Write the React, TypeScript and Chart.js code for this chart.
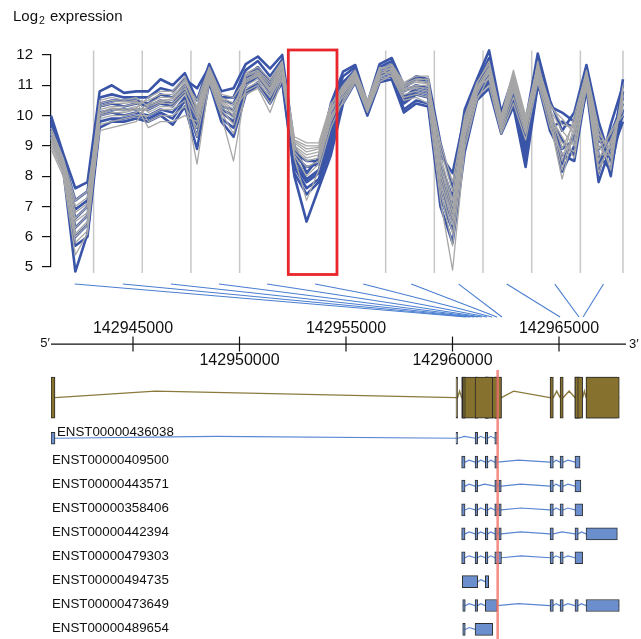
import React, { useEffect, useRef } from "react";
import { Chart, registerables } from "chart.js";
Chart.register(...registerables);

// ---------- Expression profiles (48 probes, 12 probe sets of 4) ----------
const BLUE_1 = [10.0, 8.75, 7.6, 7.8, 10.8, 11.0, 10.75, 10.8, 10.8, 11.2, 11.0, 11.4, 10.5, 11.7, 10.8, 10.9, 11.7, 11.95, 11.55, 12.0, 9.0, 8.1, 8.6, 10.4, 11.45, 11.67, 10.4, 11.7, 11.9, 11.0, 11.3, 11.2, 9.1, 7.6, 10.2, 11.2, 12.15, 10.1, 11.3, 9.8, 12.05, 10.5, 9.5, 10.1, 11.67, 9.8, 8.5, 11.2];
const BLUE_2 = [9.9, 8.6, 7.2, 7.5, 10.6, 10.7, 10.6, 10.6, 10.6, 10.9, 10.8, 11.2, 10.9, 11.6, 10.6, 10.6, 11.5, 11.8, 11.3, 11.85, 8.8, 8.5, 8.5, 10.1, 11.3, 11.6, 10.35, 11.6, 11.8, 10.9, 11.2, 11.1, 8.7, 8.1, 10.0, 11.1, 11.9, 10.0, 11.1, 9.6, 11.8, 10.3, 10.1, 9.8, 11.5, 8.1, 9.7, 11.0];
const BLUE_3 = [9.8, 8.5, 6.9, 7.2, 10.4, 10.5, 10.5, 10.5, 10.4, 10.7, 10.6, 11.0, 10.2, 11.5, 10.5, 10.4, 11.3, 11.6, 11.1, 11.7, 8.7, 8.3, 8.4, 9.8, 11.1, 11.5, 10.3, 11.5, 11.7, 10.8, 11.0, 10.9, 8.4, 7.3, 9.8, 11.0, 11.7, 9.9, 11.0, 9.4, 11.6, 9.6, 9.8, 9.6, 11.4, 9.5, 8.0, 10.8];
const BLUE_4 = [9.7, 8.45, 6.6, 7.0, 10.3, 10.4, 10.3, 10.4, 10.3, 10.5, 10.4, 10.9, 10.0, 11.45, 10.3, 10.2, 11.2, 11.5, 11.0, 11.6, 8.6, 7.9, 8.2, 9.5, 11.0, 11.4, 10.25, 11.4, 11.6, 10.6, 10.9, 10.8, 8.1, 7.0, 9.6, 10.9, 11.5, 9.8, 10.9, 9.2, 11.5, 10.2, 8.4, 9.4, 11.3, 8.9, 9.2, 10.6];
const BLUE_5 = [9.6, 8.4, 6.3, 6.7, 10.1, 10.2, 10.2, 10.2, 10.2, 10.4, 10.3, 10.8, 9.8, 11.4, 10.2, 10.0, 11.1, 11.4, 10.9, 11.5, 8.4, 7.8, 8.1, 9.3, 10.9, 11.35, 10.2, 11.35, 11.5, 10.5, 10.8, 10.7, 7.9, 6.8, 9.4, 10.8, 11.4, 9.7, 10.8, 9.0, 11.4, 9.9, 9.2, 8.7, 11.2, 8.4, 9.4, 10.4];
const BLUE_6 = [9.5, 8.3, 6.0, 6.4, 10.0, 10.1, 10.0, 10.1, 10.0, 10.2, 10.1, 10.6, 9.6, 11.3, 10.1, 9.8, 11.0, 11.3, 10.7, 11.4, 8.3, 7.6, 7.9, 9.1, 10.7, 11.3, 10.15, 11.3, 11.4, 10.4, 10.7, 10.6, 7.6, 6.5, 9.2, 10.7, 11.2, 9.6, 10.6, 8.8, 11.3, 9.8, 8.9, 9.2, 11.1, 8.7, 8.2, 10.2];
const BLUE_7 = [9.4, 8.25, 4.85, 6.1, 9.8, 9.9, 9.9, 10.0, 9.9, 10.1, 9.9, 10.5, 9.3, 11.2, 9.9, 9.6, 10.8, 11.1, 10.5, 11.2, 8.1, 7.4, 7.8, 8.9, 10.6, 11.2, 10.1, 11.2, 11.3, 10.2, 10.5, 10.4, 7.3, 6.2, 9.0, 10.6, 11.1, 9.5, 10.4, 8.5, 11.1, 9.5, 8.7, 8.5, 10.9, 7.8, 9.0, 10.0];
const BLUE_8 = [9.3, 8.2, 5.7, 6.0, 9.6, 9.8, 9.8, 9.9, 9.8, 10.0, 9.7, 10.3, 8.9, 11.1, 9.8, 9.3, 10.7, 11.0, 10.4, 11.1, 8.0, 6.5, 7.6, 8.7, 10.4, 11.1, 10.0, 11.1, 11.2, 10.1, 10.4, 10.3, 7.0, 5.8, 8.8, 10.5, 10.9, 9.4, 10.3, 8.3, 11.0, 10.0, 8.15, 9.0, 10.8, 9.2, 8.7, 9.8];

const GRAY_1 = [9.6, 8.6, 7.2, 7.5, 10.2, 10.3, 10.3, 10.4, 10.5, 10.7, 10.7, 11.2, 10.2, 11.5, 10.55, 10.3, 11.15, 11.35, 10.85, 11.6, 9.2, 9.0, 9.0, 10.35, 11.0, 11.5, 10.5, 11.6, 11.5, 10.85, 10.95, 10.9, 8.5, 7.0, 9.7, 10.95, 11.6, 9.9, 11.3, 9.85, 11.7, 10.25, 8.9, 9.8, 11.5, 9.6, 8.6, 10.7];
const GRAY_2 = [9.5, 8.55, 7.0, 7.3, 10.5, 10.6, 10.5, 10.6, 10.3, 10.45, 10.5, 10.9, 10.1, 11.45, 10.5, 10.2, 11.35, 11.5, 11.1, 11.75, 9.3, 9.1, 9.1, 10.4, 10.75, 11.3, 10.3, 11.35, 11.6, 11.0, 11.15, 11.1, 8.9, 7.5, 9.9, 11.05, 11.8, 10.0, 11.5, 10.0, 11.65, 10.4, 9.7, 9.6, 11.4, 9.3, 8.2, 10.9];
const GRAY_3 = [9.45, 8.5, 6.8, 7.1, 10.05, 10.2, 10.15, 10.25, 10.6, 10.8, 10.8, 11.3, 10.3, 11.55, 10.6, 10.4, 11.0, 11.2, 10.7, 11.45, 9.1, 8.8, 8.9, 10.2, 10.9, 11.4, 10.4, 11.5, 11.7, 11.1, 11.3, 11.3, 8.3, 6.8, 9.6, 10.9, 11.45, 9.75, 11.0, 9.65, 11.8, 10.1, 8.5, 10.0, 11.45, 9.4, 8.9, 10.6];
const GRAY_4 = [9.4, 8.45, 6.6, 7.0, 10.4, 10.5, 10.45, 10.5, 10.1, 10.3, 10.3, 10.7, 9.9, 11.35, 10.4, 10.0, 11.4, 11.6, 11.2, 11.8, 9.15, 8.9, 8.95, 10.3, 10.6, 11.2, 10.2, 11.25, 11.5, 10.9, 11.0, 11.0, 9.1, 7.8, 10.0, 11.1, 11.7, 9.95, 11.4, 9.9, 11.5, 10.3, 9.9, 9.4, 11.3, 9.0, 8.4, 11.0];
const GRAY_5 = [9.3, 8.4, 6.5, 6.8, 9.9, 10.0, 10.0, 10.1, 10.4, 10.6, 10.6, 11.1, 10.5, 11.6, 10.7, 10.6, 11.2, 11.4, 10.9, 11.65, 8.95, 8.6, 8.7, 10.1, 10.95, 11.45, 10.45, 11.55, 11.65, 11.05, 11.2, 11.2, 7.9, 6.4, 9.4, 10.8, 11.55, 9.85, 11.2, 9.8, 11.6, 9.95, 8.2, 9.7, 11.35, 9.2, 9.1, 10.5];
const GRAY_6 = [9.25, 8.3, 6.3, 6.7, 10.3, 10.4, 10.4, 10.45, 9.8, 10.0, 10.0, 10.3, 9.6, 11.25, 10.2, 9.7, 11.3, 11.45, 11.0, 11.7, 9.0, 8.7, 8.8, 10.15, 10.8, 11.35, 10.35, 11.4, 11.45, 10.8, 10.9, 10.8, 8.7, 7.2, 9.8, 11.0, 11.2, 9.5, 10.6, 9.4, 11.45, 10.2, 9.5, 9.0, 11.15, 8.7, 8.7, 10.8];
const GRAY_7 = [9.2, 8.25, 6.1, 6.5, 9.5, 9.6, 9.7, 9.8, 10.35, 10.5, 10.55, 11.0, 10.0, 11.4, 10.45, 10.1, 10.8, 11.0, 10.4, 11.3, 8.8, 8.3, 8.5, 9.9, 10.85, 11.4, 10.4, 11.45, 11.55, 10.95, 11.1, 11.05, 7.7, 6.1, 9.3, 10.7, 11.5, 9.8, 11.1, 9.7, 11.3, 9.8, 7.9, 9.5, 11.2, 8.9, 9.4, 10.3];
const GRAY_8 = [9.1, 8.2, 6.0, 6.4, 10.1, 10.25, 10.2, 10.3, 9.6, 9.8, 9.8, 10.0, 9.8, 11.3, 10.3, 9.9, 11.1, 11.3, 10.8, 11.5, 8.9, 8.5, 8.6, 10.0, 10.4, 11.1, 10.1, 11.1, 11.35, 10.6, 10.7, 10.6, 8.1, 6.6, 9.5, 10.85, 11.4, 9.7, 10.9, 9.6, 11.4, 10.0, 9.3, 8.6, 11.0, 8.3, 9.0, 10.4];
const GRAY_9 = [9.0, 8.1, 5.8, 6.2, 10.0, 10.1, 10.1, 10.2, 10.2, 10.4, 10.4, 10.8, 9.3, 11.2, 10.1, 9.4, 10.7, 10.9, 10.1, 11.2, 8.7, 8.0, 8.4, 9.8, 10.7, 11.25, 10.25, 11.3, 11.4, 10.7, 10.8, 10.7, 7.5, 5.7, 9.1, 10.6, 11.0, 9.4, 10.4, 9.2, 11.1, 9.6, 8.7, 9.2, 11.1, 8.5, 9.5, 10.0];
const GRAY_10 = [8.9, 8.0, 5.4, 6.1, 9.7, 9.8, 9.9, 10.0, 10.0, 10.2, 10.2, 10.5, 8.4, 11.1, 10.0, 8.5, 10.9, 11.1, 10.6, 11.4, 8.6, 7.2, 8.2, 9.6, 10.5, 11.15, 10.15, 11.2, 11.3, 10.5, 10.6, 10.4, 7.2, 4.9, 8.9, 10.5, 11.3, 9.6, 10.8, 9.5, 11.2, 9.9, 9.1, 8.8, 10.9, 8.1, 9.2, 10.2];

const Y_TICKS = [5, 6, 7, 8, 9, 10, 11, 12];
// probe-set separators (probe index units) and the highlighted probe set
const GROUP_BOUNDARIES = [3.5, 7.5, 11.5, 15.5, 19.5, 23.5, 27.5, 31.5, 35.5, 39.5, 43.5, 47];
const HIGHLIGHT_GROUP = [19.5, 23.5];

// ---------- Probe set -> genome mapping ----------
const GROUP_ANCHORS = [1.95, 5.9, 9.85, 13.8, 17.75, 21.7, 25.65, 29.6, 33.5, 37.45, 41.4, 45.4];
const PROBESET_POSITIONS = [142960634, 142960822, 142961010, 142961198, 142961385, 142961620, 142961855, 142962090, 142962324, 142965050, 142965940, 142966130];
const GENOMIC_TICKS = [142945000, 142950000, 142955000, 142960000, 142965000];
const CUT_POSITION = 142962120;

// ---------- Transcripts (exon start/end) ----------
const TRANSCRIPTS = ["ENST00000436038", "ENST00000409500", "ENST00000443571", "ENST00000358406", "ENST00000442394", "ENST00000479303", "ENST00000494735", "ENST00000473649", "ENST00000489654"];
const EX_436038 = [[142941150, 142941338], [142960165, 142960240], [142961060, 142961180], [142961540, 142961660], [142961985, 142962100]];
const EX_409500 = [[142960430, 142960590], [142961060, 142961180], [142961540, 142961665], [142961985, 142962105], [142964580, 142964735], [142965050, 142965200], [142965750, 142965990]];
const EX_443571 = [[142960430, 142960590], [142961060, 142961180], [142961985, 142962105], [142962170, 142962290], [142964580, 142964735], [142965050, 142965200], [142965750, 142966030]];
const EX_358406 = [[142960430, 142960590], [142961060, 142961180], [142961540, 142961665], [142961985, 142962105], [142962170, 142962290], [142964580, 142964735], [142965050, 142965200], [142965750, 142966110]];
const EX_442394 = [[142960430, 142960590], [142961060, 142961180], [142961540, 142961665], [142961985, 142962105], [142962170, 142962290], [142964580, 142964735], [142965750, 142965905], [142966270, 142967740]];
const EX_479303 = [[142960430, 142960590], [142961060, 142961180], [142961540, 142961665], [142961985, 142962300], [142964580, 142964735], [142965050, 142965200], [142965750, 142966110]];
const EX_494735 = [[142960460, 142961185], [142961540, 142961700]];
const EX_473649 = [[142960480, 142960600], [142961060, 142961180], [142961540, 142962105], [142964580, 142964735], [142965050, 142965200], [142965750, 142965905], [142966270, 142967830]];
const EX_489654 = [[142960480, 142960600], [142961060, 142961890]];
const TRANSCRIPT_EXONS = [EX_436038, EX_409500, EX_443571, EX_358406, EX_442394, EX_479303, EX_494735, EX_473649, EX_489654];

// ---------- layout constants (row units of the lower panel) ----------
const GENE_ROW = -1.7;
const AXIS_ROW = -3.94;
const CONNECTOR_TOP_ROW = -6.45;
const CONNECTOR_BOTTOM_ROW = -5.07;
const CUT_TOP_ROW = -2.85;

const FONT = '"Liberation Sans", Arial, Helvetica, sans-serif';

const topDecor = {
  id: "topDecor",
  beforeDatasetsDraw(chart: any) {
    const { ctx, scales } = chart;
    const x = scales.x, y = scales.y;
    const top = y.getPixelForValue(12) - 4.5;
    const bottom = y.getPixelForValue(5) + 6;
    ctx.save();
    ctx.strokeStyle = "#c8c8c8";
    ctx.lineWidth = 1.5;
    GROUP_BOUNDARIES.forEach((b) => {
      const px = x.getPixelForValue(b);
      ctx.beginPath();
      ctx.moveTo(px, top);
      ctx.lineTo(px, bottom);
      ctx.stroke();
    });
    ctx.restore();
  },
  afterDatasetsDraw(chart: any) {
    const { ctx, scales } = chart;
    const x = scales.x, y = scales.y;
    const l = x.getPixelForValue(HIGHLIGHT_GROUP[0]);
    const r = x.getPixelForValue(HIGHLIGHT_GROUP[1]);
    const t = y.getPixelForValue(12) - 5;
    const b = y.getPixelForValue(5) + 7.5;
    ctx.save();
    ctx.strokeStyle = "#e8262b";
    ctx.lineWidth = 2.8;
    ctx.strokeRect(l, t, r - l, b - t);
    ctx.restore();
  },
  afterDraw(chart: any) {
    const { ctx } = chart;
    ctx.save();
    ctx.fillStyle = "#111";
    ctx.textBaseline = "alphabetic";
    ctx.textAlign = "left";
    ctx.font = `15px ${FONT}`;
    ctx.fillText("Log", 13, 20.5);
    const w = ctx.measureText("Log").width;
    ctx.font = `10.5px ${FONT}`;
    ctx.fillText("2", 13 + w + 1, 23.5);
    ctx.font = `15px ${FONT}`;
    ctx.fillText("expression", 50, 20.5);
    ctx.restore();
  },
};

function TopChart() {
  const ref = useRef<HTMLCanvasElement>(null);
  useEffect(() => {
    const blue = [BLUE_1, BLUE_2, BLUE_3, BLUE_4, BLUE_5, BLUE_6, BLUE_7, BLUE_8];
    const gray = [GRAY_1, GRAY_2, GRAY_3, GRAY_4, GRAY_5, GRAY_6, GRAY_7, GRAY_8, GRAY_9, GRAY_10];
    const pts = (arr: number[]) => arr.map((v, i) => ({ x: i, y: v }));
    const common = { pointRadius: 0, tension: 0, clip: false, fill: false, borderJoinStyle: "round" };
    const datasets: any[] = [
      ...gray.map((s) => ({ ...common, data: pts(s), borderColor: "#a7a7a7", borderWidth: 1.3, order: 0 })),
      ...blue.map((s) => ({ ...common, data: pts(s), borderColor: "#3a55a8", borderWidth: 2.6, order: 1 })),
    ];
    const chart = new Chart(ref.current as HTMLCanvasElement, {
      type: "line",
      data: { datasets },
      options: {
        animation: false,
        responsive: false,
        events: [],
        layout: { padding: { left: 0, right: 15, top: 55, bottom: 18 } },
        plugins: { legend: { display: false }, tooltip: { enabled: false }, title: { display: false } },
        scales: {
          x: { type: "linear", min: 0, max: 47.25, offset: false, display: false },
          y: {
            type: "linear",
            min: 5,
            max: 12,
            afterFit: (s: any) => { s.width = 51; },
            afterBuildTicks: (s: any) => { s.ticks = Y_TICKS.map((v) => ({ value: v })); },
            ticks: { color: "#111", padding: 9, font: { family: FONT, size: 15 } },
            grid: { drawOnChartArea: false, drawTicks: true, tickLength: 9, color: "#111", lineWidth: 1.2 },
            border: { display: true, color: "#111", width: 1.2 },
          },
        },
      } as any,
      plugins: [topDecor],
    });
    return () => chart.destroy();
  }, []);
  return <canvas ref={ref} width={641} height={285} style={{ position: "absolute", left: 0, top: 0, width: 641, height: 285 }} />;
}

const bottomDecor = {
  id: "bottomDecor",
  beforeDatasetsDraw(chart: any) {
    const { ctx, chartArea, scales } = chart;
    const x = scales.x, xp = scales.xp, y = scales.y;
    ctx.save();
    // probe-set connectors
    ctx.strokeStyle = "#4a7ed0";
    ctx.lineWidth = 1.1;
    const y1 = y.getPixelForValue(CONNECTOR_TOP_ROW);
    const y2 = y.getPixelForValue(CONNECTOR_BOTTOM_ROW);
    GROUP_ANCHORS.forEach((a, k) => {
      ctx.beginPath();
      ctx.moveTo(xp.getPixelForValue(a), y1);
      ctx.lineTo(x.getPixelForValue(PROBESET_POSITIONS[k]), y2);
      ctx.stroke();
    });
    // genomic axis
    const ay = y.getPixelForValue(AXIS_ROW);
    ctx.strokeStyle = "#111";
    ctx.lineWidth = 1.2;
    ctx.beginPath();
    ctx.moveTo(chartArea.left, ay);
    ctx.lineTo(chartArea.right, ay);
    ctx.stroke();
    ctx.fillStyle = "#111";
    ctx.font = `16px ${FONT}`;
    ctx.textAlign = "center";
    ctx.textBaseline = "middle";
    GENOMIC_TICKS.forEach((t, k) => {
      const px = x.getPixelForValue(t);
      ctx.beginPath();
      ctx.moveTo(px, ay - 7.5);
      ctx.lineTo(px, ay + 7.5);
      ctx.stroke();
      ctx.fillText(String(t), px, k % 2 === 0 ? ay - 15 : ay + 16.5);
    });
    ctx.font = `13px ${FONT}`;
    ctx.textAlign = "right";
    ctx.fillText("5\u2032", chartArea.left - 1, ay - 1);
    ctx.textAlign = "left";
    ctx.fillText("3\u2032", chartArea.right + 3, ay);
    ctx.restore();
  },
  afterDraw(chart: any) {
    const { ctx, chartArea, scales } = chart;
    const y = scales.y;
    ctx.save();
    ctx.fillStyle = "#111";
    ctx.font = `13.3px ${FONT}`;
    ctx.textAlign = "left";
    ctx.textBaseline = "middle";
    TRANSCRIPTS.forEach((name, r) => {
      const py = y.getPixelForValue(r);
      if (r === 0) ctx.fillText(name, chartArea.left + 6, py - 6);
      else ctx.fillText(name, chartArea.left + 1, py - 1.5);
    });
    ctx.restore();
  },
};

function intronPath(exons: number[][], row: number, amp: number, frac: (gap: number) => number) {
  const sorted = exons.slice().sort((a, b) => a[0] - b[0]);
  const out: any[] = [];
  for (let i = 0; i < sorted.length; i++) {
    const [s, e] = sorted[i];
    if (i > 0) {
      const prevEnd = sorted[i - 1][1];
      const gap = s - prevEnd;
      if (gap > 0) out.push({ x: prevEnd + gap * frac(gap), y: row - amp });
    }
    out.push({ x: s, y: row });
    out.push({ x: e, y: row });
  }
  return out;
}

function mergeExons(lists: number[][][]) {
  const all = lists.flat().map((e) => e.slice()).sort((a, b) => a[0] - b[0]);
  const merged: number[][] = [];
  all.forEach(([s, e]) => {
    const last = merged[merged.length - 1];
    if (last && s <= last[1]) last[1] = Math.max(last[1], e);
    else merged.push([s, e]);
  });
  return merged;
}

function BottomChart() {
  const ref = useRef<HTMLCanvasElement>(null);
  useEffect(() => {
    const seen = new Set<string>();
    const geneExons: number[][] = [];
    TRANSCRIPT_EXONS.flat().forEach((ex) => {
      const k = ex.join("-");
      if (!seen.has(k)) { seen.add(k); geneExons.push(ex); }
    });
    const union = mergeExons(TRANSCRIPT_EXONS);
    const datasets: any[] = [
      {
        type: "line",
        data: [{ x: CUT_POSITION, y: CUT_TOP_ROW }, { x: CUT_POSITION, y: 8.4 }],
        borderColor: "rgba(240,118,108,0.8)",
        borderWidth: 2.6,
        pointRadius: 0,
        order: 0,
      },
      {
        type: "bar",
        indexAxis: "y",
        data: TRANSCRIPT_EXONS.flatMap((list, r) => list.map(([s, e]) => ({ x: [s, e], y: r }))),
        backgroundColor: "#6b8ecc",
        borderColor: "#2f2f2f",
        borderWidth: 1,
        borderSkipped: false,
        barThickness: 12,
        grouped: false,
        order: 1,
      },
      {
        type: "bar",
        indexAxis: "y",
        data: geneExons.map(([s, e]) => ({ x: [s, e], y: GENE_ROW })),
        backgroundColor: "#86722e",
        borderColor: "#2a2a2a",
        borderWidth: 1,
        borderSkipped: false,
        barThickness: 41,
        grouped: false,
        order: 1,
      },
      {
        type: "line",
        data: intronPath(union, GENE_ROW, 0.27, (g) => (g > 1500 ? 0.25 : 0.5)),
        borderColor: "#8a7a3e",
        borderWidth: 1.4,
        pointRadius: 0,
        tension: 0,
        order: 2,
      },
      ...TRANSCRIPT_EXONS.map((list, r) => ({
        type: "line",
        data: intronPath(list, r, 0.08, () => 0.4),
        borderColor: "#5a86d4",
        borderWidth: 1.2,
        pointRadius: 0,
        tension: 0,
        order: 2,
      })),
    ];
    const chart = new Chart(ref.current as HTMLCanvasElement, {
      type: "bar",
      data: { datasets },
      options: {
        animation: false,
        responsive: false,
        events: [],
        layout: { padding: { left: 51, right: 15, top: 0, bottom: 0 } },
        plugins: { legend: { display: false }, tooltip: { enabled: false } },
        scales: {
          x: { type: "linear", min: 142941150, max: 142968146, offset: false, grace: 0, display: false },
          xp: { type: "linear", axis: "x", min: 0, max: 47.25, offset: false, display: false },
          y: { type: "linear", min: -6.62, max: 8.4, reverse: true, offset: false, display: false },
        },
      } as any,
      plugins: [bottomDecor],
    });
    return () => chart.destroy();
  }, []);
  return <canvas ref={ref} width={641} height={359} style={{ position: "absolute", left: 0, top: 280, width: 641, height: 359 }} />;
}

export default function App() {
  return (
    <div style={{ position: "absolute", left: 0, top: 0, width: 641, height: 639, background: "#fff", overflow: "hidden" }}>
      <TopChart />
      <BottomChart />
    </div>
  );
}
